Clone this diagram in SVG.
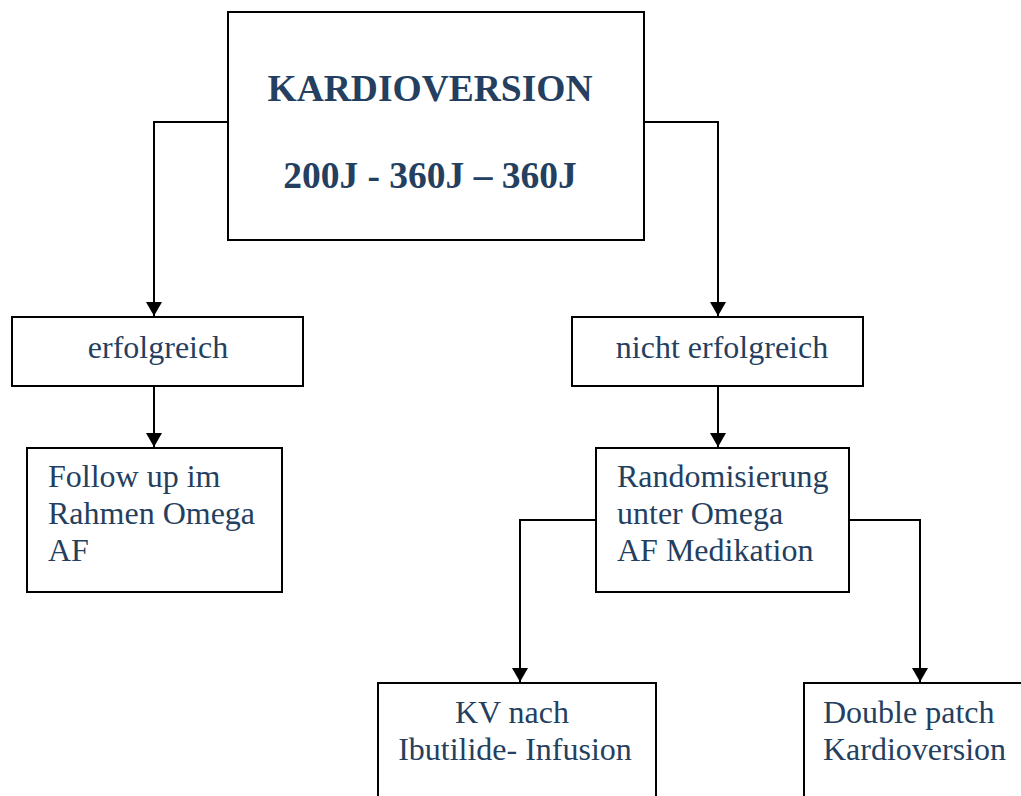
<svg xmlns="http://www.w3.org/2000/svg" width="1021" height="796" viewBox="0 0 1021 796">
<style>
.box{fill:#fff;stroke:#000;stroke-width:2}
.t{font-family:"Liberation Serif","Times New Roman",serif;font-size:32px;fill:#243F60}
.b{font-weight:bold;font-size:37.5px}
.c{fill:none;stroke:#000;stroke-width:2}
</style>
<defs>
<marker id="ah" markerWidth="8" markerHeight="8" refX="7" refY="4" orient="auto" markerUnits="strokeWidth">
<path d="M0,0 L7,4 L0,8 Z" fill="#000"/>
</marker>
</defs>
<rect width="1021" height="796" fill="#fff"/>
<g id="connectors">
<path class="c" d="M228,122 H154 V316" marker-end="url(#ah)"/>
<path class="c" d="M644,122 H718 V316" marker-end="url(#ah)"/>
<path class="c" d="M154,386 V447" marker-end="url(#ah)"/>
<path class="c" d="M718,386 V447" marker-end="url(#ah)"/>
<path class="c" d="M596,520 H520 V682" marker-end="url(#ah)"/>
<path class="c" d="M846,520 H920 V682" marker-end="url(#ah)"/>
</g>
<g id="n-kardioversion">
<rect class="box" x="228" y="12" width="416" height="228"/>
<text class="t b" x="430" y="101" text-anchor="middle">KARDIOVERSION</text>
<text class="t b" x="430" y="188" text-anchor="middle">200J - 360J – 360J</text>
</g>
<g id="n-erfolgreich">
<rect class="box" x="12" y="317" width="291" height="69"/>
<text class="t" x="158" y="358" text-anchor="middle">erfolgreich</text>
</g>
<g id="n-nicht">
<rect class="box" x="572" y="317" width="291" height="69"/>
<text class="t" x="722" y="358" text-anchor="middle">nicht erfolgreich</text>
</g>
<g id="n-follow">
<rect class="box" x="27" y="448" width="255" height="144"/>
<text class="t" x="48" y="487">Follow up im</text>
<text class="t" x="48" y="524">Rahmen Omega</text>
<text class="t" x="48" y="561">AF</text>
</g>
<g id="n-random">
<rect class="box" x="596" y="448" width="253" height="144"/>
<text class="t" x="617" y="487">Randomisierung</text>
<text class="t" x="617" y="524">unter Omega</text>
<text class="t" x="617" y="561">AF Medikation</text>
</g>
<g id="n-kv">
<rect class="box" x="378" y="683" width="278" height="130"/>
<text class="t" x="512" y="723" text-anchor="middle">KV nach</text>
<text class="t" x="515" y="760" text-anchor="middle">Ibutilide- Infusion</text>
</g>
<g id="n-double">
<rect class="box" x="804" y="683" width="240" height="130"/>
<text class="t" x="823" y="723">Double patch</text>
<text class="t" x="823" y="760">Kardioversion</text>
</g>
</svg>
